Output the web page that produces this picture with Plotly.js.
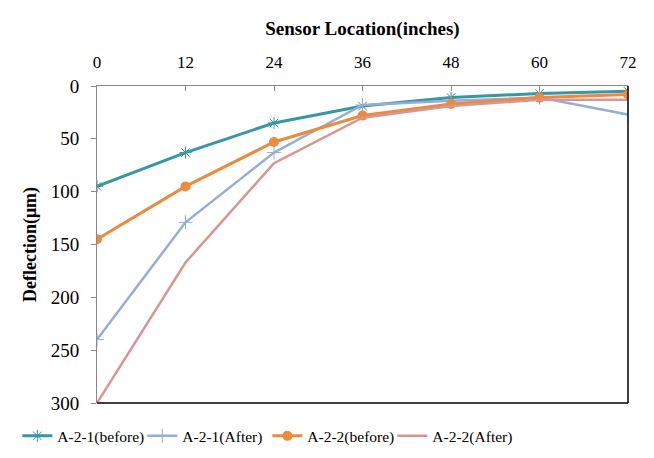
<!DOCTYPE html>
<html><head><meta charset="utf-8">
<script src="https://cdn.plot.ly/plotly-3.0.1.min.js"></script>
<style>html,body{margin:0;padding:0;background:#fff;}#chart{width:654px;height:458px;}</style>
</head><body><div id="chart"></div>
<script>
const sensorLocations = [0, 12, 24, 36, 48, 60, 72];
const seriesNames = ["A-2-1(before)", "A-2-1(After)", "A-2-2(before)", "A-2-2(After)"];
const a21Before = [95, 63, 35, 19, 11, 7, 5];
const a21After  = [240, 129, 63, 18, 14, 11, 27];
const a22Before = [145, 95, 53, 28, 17, 11, 8];
const a22After  = [300, 167, 73, 30, 19, 13, 13];
const xTicks = [0, 12, 24, 36, 48, 60, 72];
const yTicks = [0, 50, 100, 150, 200, 250, 300];

const font = "Liberation Serif, Times New Roman, serif";
const traces = [
  {x: sensorLocations, y: a21Before, name: seriesNames[0], mode: "lines+markers",
   line: {color: "#3697A6", width: 3}, marker: {symbol: "asterisk-open", size: 10, color: "#3697A6", line: {color: "#3FA7B8", width: 1}}},
  {x: sensorLocations, y: a21After, name: seriesNames[1], mode: "lines+markers",
   line: {color: "#96AED4", width: 2.5}, marker: {symbol: "cross-thin-open", size: 10, color: "#96AED4", line: {color: "#96AED4", width: 1}}},
  {x: sensorLocations, y: a22Before, name: seriesNames[2], mode: "lines+markers",
   line: {color: "#EC8A3D", width: 3}, marker: {symbol: "circle", size: 10, color: "#EC8A3D"}},
  {x: sensorLocations, y: a22After, name: seriesNames[3], mode: "lines",
   line: {color: "#D99594", width: 2.5}}
];

const layout = {
  width: 654, height: 458,
  margin: {l: 97, r: 26, t: 86, b: 55, autoexpand: false},
  paper_bgcolor: "#fff", plot_bgcolor: "#fff",
  font: {family: font, size: 16, color: "#000"},
  showlegend: true,
  legend: {orientation: "h", x: -0.15, xanchor: "left", y: -0.105, yanchor: "middle",
    font: {family: font, size: 15.5, color: "#000"}, itemwidth: 30, tracegroupgap: 0,
    entrywidth: 80, entrywidthmode: "pixels"},
  xaxis: {
    side: "top", range: [0, 72], tickvals: xTicks, ticktext: xTicks.map(String),
    showgrid: false, zeroline: false, showline: true, linecolor: "#888", linewidth: 1,
    ticks: "inside", ticklen: 5, tickcolor: "#888", ticklabelstandoff: 10,
    tickfont: {family: font, size: 17},
    title: {text: "<b>Sensor Location(inches)</b>", font: {family: font, size: 19}, standoff: 12},
    mirror: false
  },
  yaxis: {
    autorange: false, range: [300, 0], tickvals: yTicks, ticktext: yTicks.map(String),
    showgrid: false, zeroline: false, showline: true, linecolor: "#888", linewidth: 1,
    ticks: "outside", ticklen: 5, tickcolor: "#888", ticklabelstandoff: 8,
    tickfont: {family: font, size: 19},
    title: {text: "<b>Deflection(μm)</b>", font: {family: font, size: 18}, standoff: 9}
  },
  shapes: [
    {type: "line", xref: "paper", yref: "paper", x0: 0, x1: 1, y0: 0, y1: 0, line: {color: "#000", width: 1.5}},
    {type: "line", xref: "paper", yref: "paper", x0: 1, x1: 1, y0: 0, y1: 1, line: {color: "#000", width: 1.5}}
  ]
};
Plotly.newPlot("chart", traces, layout, {displayModeBar: false, staticPlot: true});
</script></body></html>
